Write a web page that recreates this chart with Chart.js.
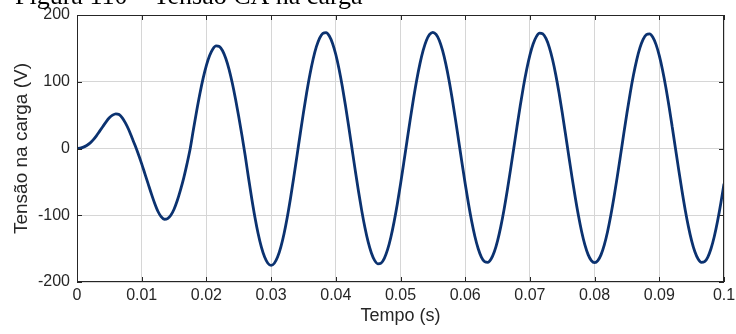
<!DOCTYPE html>
<html>
<head>
<meta charset="utf-8">
<script src="https://cdn.jsdelivr.net/npm/chart.js@4.4.1/dist/chart.umd.min.js"></script>
<style>
  html, body { margin: 0; padding: 0; background: #fff; }
  #grafico { display: block; }
</style>
</head>
<body>
<canvas id="grafico" width="736" height="334"></canvas>
<script>
// Figura 110 - Tensão CA na carga (amostras a cada 0.5 ms)
var passo = 0.0005;
var tituloFigura = 'Figura 110 \u2013 Tens\u00e3o CA na carga';
var ticksTempo = [0, 0.01, 0.02, 0.03, 0.04, 0.05, 0.06, 0.07, 0.08, 0.09, 0.1];
var ticksTensao = [-200, -100, 0, 100, 200];

var tensao = [
  0, 0.5, 2, 4.5, 8, 13, 19, 26, 33, 40, 46, 50, 52, 51, 46, 38, 28, 16, 4, -9,
  -23, -38, -53, -68, -82, -94, -102, -106, -105, -100, -91, -78, -62, -44, -23, 0,
  28.9, 56.7, 82.5, 105.4, 124.6, 139.3, 149.2, 153.7, 152.8, 146.5, 134.9, 118.7, 98.2, 74.2, 47.6, 19.3,
  -11.0, -43.5, -74.5, -102.9, -127.6, -147.8, -162.7, -171.9, -175, -171.9, -162.7, -147.8, -127.6, -102.9, -74.5, -43.5, -11.0,
  21.8, 53.8, 83.8, 110.9, 134.1, 152.5, 165.5, 172.6, 173.7, 168.5, 157.4, 140.8, 119.1, 93.2, 64.0, 32.6, 0,
  -32.4, -63.7, -92.7, -118.4, -140.0, -156.5, -167.6, -172.7, -171.6, -164.5, -151.6, -133.3, -110.3, -83.4, -53.5, -21.7,
  10.9, 43.3, 74.1, 102.3, 126.8, 146.9, 161.8, 170.9, 174, 170.9, 161.8, 146.9, 126.8, 102.3, 74.1, 43.3, 10.9,
  -21.4, -52.8, -82.4, -109.0, -131.8, -149.8, -162.6, -169.6, -170.7, -165.6, -154.7, -138.3, -117.0, -91.6, -62.9, -32.0, 0,
  32.4, 63.7, 92.7, 118.4, 140.0, 156.5, 167.6, 172.7, 171.6, 164.5, 151.6, 133.3, 110.3, 83.4, 53.5, 21.7,
  -10.7, -42.5, -72.8, -100.5, -124.7, -144.4, -159.0, -168.0, -171, -168.0, -159.0, -144.4, -124.7, -100.5, -72.8, -42.5, -10.7,
  21.6, 53.1, 82.9, 109.6, 132.5, 150.7, 163.6, 170.6, 171.7, 166.6, 155.6, 139.1, 117.7, 92.2, 63.3, 32.2, 0,
  -32.0, -62.9, -91.6, -117.0, -138.3, -154.7, -165.6, -170.7, -169.6, -162.6, -149.8, -131.8, -109.0, -82.4, -52.8
];

var pontos = tensao.map(function (v, i) {
  return { x: +(i * passo).toFixed(4), y: v };
});

var corEixo = '#262626';

var moldura = {
  id: 'moldura',
  afterDraw: function (chart) {
    var ctx = chart.ctx, a = chart.chartArea;
    var sx = chart.scales.x, sy = chart.scales.y;
    ctx.save();
    ctx.strokeStyle = corEixo;
    ctx.lineWidth = 1;
    ctx.beginPath();
    ticksTempo.forEach(function (t) {
      var px = Math.round(sx.getPixelForValue(t)) + 0.5;
      ctx.moveTo(px, a.bottom); ctx.lineTo(px, a.bottom - 5);
      ctx.moveTo(px, a.top); ctx.lineTo(px, a.top + 5);
    });
    ticksTensao.forEach(function (v) {
      var py = Math.round(sy.getPixelForValue(v)) + 0.5;
      ctx.moveTo(a.left, py); ctx.lineTo(a.left + 5, py);
      ctx.moveTo(a.right, py); ctx.lineTo(a.right - 5, py);
    });
    ctx.stroke();
    ctx.strokeRect(Math.round(a.left) + 0.5, Math.round(a.top) + 0.5,
      Math.round(a.right - a.left) - 1, Math.round(a.bottom - a.top) - 1);
    // titulo da figura (cortado no topo, como no original)
    ctx.fillStyle = '#000';
    ctx.font = '26px "Liberation Serif", "Times New Roman", serif';
    ctx.textBaseline = 'alphabetic';
    ctx.textAlign = 'left';
    ctx.fillText(tituloFigura, 15, 4);
    ctx.restore();
  }
};

new Chart(document.getElementById('grafico').getContext('2d'), {
  type: 'line',
  data: {
    datasets: [{
      label: 'Tensão na carga',
      data: pontos,
      borderColor: '#0b3270',
      borderWidth: 2.8,
      pointRadius: 0,
      fill: false,
      tension: 0,
      cubicInterpolationMode: 'monotone'
    }]
  },
  options: {
    responsive: false,
    animation: false,
    devicePixelRatio: 1,
    layout: { padding: { top: 15, right: 12, left: 0, bottom: 0 } },
    plugins: {
      legend: { display: false },
      tooltip: { enabled: false }
    },
    scales: {
      x: {
        type: 'linear',
        min: 0,
        max: 0.1,
        afterFit: function (s) {
          s.height = 52;
          s.paddingLeft = 0;
          s.paddingRight = 0;
        },
        afterBuildTicks: function (s) {
          s.ticks = ticksTempo.map(function (v) { return { value: v }; });
        },
        ticks: {
          padding: 4,
          color: corEixo,
          font: { family: '"Liberation Sans", Arial, sans-serif', size: 16 },
          maxRotation: 0,
          callback: function (v) { return String(+v.toFixed(2)); }
        },
        grid: { color: '#d6d6d6', drawTicks: false },
        border: { display: false },
        title: {
          display: true,
          text: 'Tempo (s)',
          color: corEixo,
          font: { family: '"Liberation Sans", Arial, sans-serif', size: 18 },
          padding: { top: 0, bottom: 7 }
        }
      },
      y: {
        min: -200,
        max: 200,
        afterFit: function (s) {
          s.width = 77;
          s.paddingTop = 0;
          s.paddingBottom = 0;
        },
        afterBuildTicks: function (s) {
          s.ticks = ticksTensao.map(function (v) { return { value: v }; });
        },
        ticks: {
          padding: 7,
          color: corEixo,
          font: { family: '"Liberation Sans", Arial, sans-serif', size: 16 }
        },
        grid: { color: '#d6d6d6', drawTicks: false },
        border: { display: false },
        title: {
          display: true,
          text: 'Tensão na carga (V)',
          color: corEixo,
          font: { family: '"Liberation Sans", Arial, sans-serif', size: 19 },
          padding: { top: 10, bottom: 0 }
        }
      }
    }
  },
  plugins: [moldura]
});
</script>
</body>
</html>
